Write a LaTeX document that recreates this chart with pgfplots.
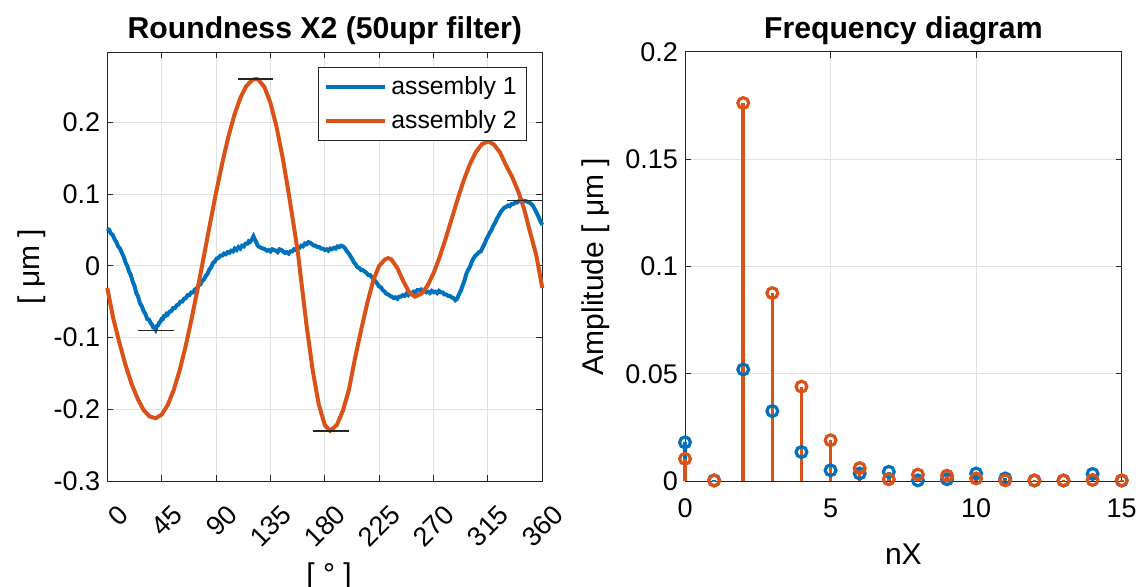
\documentclass[border=0pt]{standalone}
\usepackage{fontspec}
\setmainfont{Liberation Sans}
\usepackage{pgfplots}
\pgfplotsset{compat=1.18}
\definecolor{mblue}{RGB}{0,114,189}
\definecolor{morange}{RGB}{217,83,25}
\definecolor{mgrid}{RGB}{225,225,225}
\definecolor{maxis}{RGB}{38,38,38}

\newcommand{\labfont}{\fontsize{15}{18}\selectfont}

\pgfplotsset{
  mstyle/.style={
    scale only axis, width=217.5pt, height=214.5pt, anchor=south west,
    axis line style={maxis, line width=0.5pt},
    tick align=inside, major tick length=3pt,
    every tick/.style={maxis, line width=0.5pt},
    grid=major, major grid style={mgrid, line width=0.5pt},
    tick label style={font=\fontsize{13.5}{16}\selectfont, text=black},
    /pgf/number format/assume math mode=true,
    scaled ticks=false,
    every axis title/.style={font=\fontsize{15.1}{18}\selectfont\bfseries,
      at={(0.5,1)}, anchor=base, yshift=6.8pt},
    clip=false,
  }
}

\begin{document}
\begin{tikzpicture}
\path[use as bounding box] (0,0) rectangle (571.5pt,-293.5pt);

% left: roundness profile
\begin{axis}[mstyle,
  at={(53.65pt,-240.5pt)},
  title={Roundness X2 (50upr filter)},
  xmin=0, xmax=360, ymin=-0.3, ymax=0.298,
  xtick={0,45,...,360},
  ytick={-0.3,-0.2,-0.1,0,0.1,0.2},
  xticklabel style={xshift=10.5pt, yshift=-12pt, rotate=45, anchor=east},
  xlabel={[ ° ]}, ylabel={[ μm ]},
  every axis x label/.style={at={(axis description cs:0.51,-0.224)}, anchor=center, font=\labfont},
  every axis y label/.style={at={(axis description cs:-0.174,0.5)}, rotate=90, anchor=center, font=\labfont},
  legend style={at={(0.9655,0.9657)}, anchor=north east, draw=maxis, line width=0.5pt,
    font=\fontsize{12.4}{17}\selectfont, inner xsep=3pt, inner ysep=2.5pt,
    row sep=2.5pt, cells={anchor=west}},
  legend image code/.code={\draw[#1] (0pt,0pt) -- (29.5pt,0pt);},
]
\addplot[mblue, line width=2pt] coordinates {
(0,0.052) (1.5,0.050) (3,0.045) (4.5,0.043) (6,0.037) (7.5,0.033) (9,0.027)
(10.5,0.024) (12,0.018) (13.5,0.013) (15,0.005) (16.5,0.000) (18,-0.008)
(19.5,-0.013) (21,-0.022) (22.5,-0.028) (24,-0.038) (25.5,-0.043) (27,-0.052)
(28.5,-0.056) (30,-0.063) (31.5,-0.067) (33,-0.074) (34.5,-0.075) (36,-0.080)
(37,-0.082) (38,-0.086) (39,-0.086) (40,-0.089) (41,-0.084) (42,-0.083)
(43,-0.079) (44,-0.078) (45,-0.074) (46,-0.074) (47,-0.070) (48,-0.070)
(49,-0.067) (50,-0.068) (51.5,-0.064) (53,-0.063) (54.5,-0.059) (56,-0.059)
(57.5,-0.055) (59,-0.054) (60.5,-0.050) (62,-0.050) (63.5,-0.046) (65,-0.045)
(66.5,-0.041) (68,-0.041) (69.5,-0.037) (71,-0.037) (72.5,-0.033) (74,-0.032)
(75.5,-0.027) (77,-0.026) (78.5,-0.021) (80,-0.019) (81.5,-0.014) (83,-0.011)
(84.5,-0.005) (86,-0.002) (87.5,0.004) (89,0.006) (90.5,0.010) (92,0.011)
(93.5,0.014) (95,0.014) (96.5,0.017) (98,0.016) (99.5,0.019) (101,0.018)
(102.5,0.021) (104,0.020) (105.5,0.024) (107,0.022) (108.5,0.026) (110,0.024)
(111.5,0.028) (113,0.027) (114.5,0.031) (116,0.031) (117,0.034) (118,0.033)
(119.5,0.036) (121,0.041) (122,0.037) (123,0.034) (124.5,0.028) (126,0.026)
(127.5,0.025) (129,0.024) (130.5,0.023) (132,0.021) (133.5,0.022) (135,0.020)
(136.5,0.023) (138,0.022) (139.5,0.021) (141,0.019) (142.5,0.023) (144,0.022)
(145.5,0.020) (147,0.018) (148.5,0.019) (150,0.017) (151.5,0.020) (153,0.020)
(154.5,0.023) (156,0.022) (157.5,0.025) (159,0.025) (160.5,0.028) (162,0.027)
(163.5,0.031) (165,0.030) (166.5,0.033) (168,0.032) (169.5,0.030) (171,0.028)
(172.5,0.028) (174,0.026) (175.5,0.026) (177,0.024) (178.5,0.024) (180,0.022)
(181.5,0.023) (183,0.021) (184.5,0.024) (186,0.023) (187.5,0.025) (189,0.024)
(190.5,0.027) (192,0.026) (193.5,0.028) (195,0.027) (196.5,0.025) (198,0.021)
(199.5,0.018) (201,0.014) (202.5,0.010) (204,0.005) (205.5,0.002) (207,-0.002)
(208.5,-0.003) (210,-0.006) (211.5,-0.006) (213,-0.008) (214.5,-0.010)
(216,-0.013) (217.5,-0.013) (219,-0.016) (220.5,-0.018) (222,-0.022)
(223.5,-0.025) (225,-0.029) (226.5,-0.030) (228,-0.034) (229.5,-0.036)
(231,-0.039) (232.5,-0.040) (234,-0.042) (235.5,-0.043) (237,-0.045)
(238.5,-0.044) (240,-0.046) (241.5,-0.043) (243,-0.043) (244.5,-0.041)
(246,-0.042) (247.5,-0.039) (249,-0.041) (250.5,-0.038) (252,-0.039)
(253.5,-0.036) (255,-0.037) (256.5,-0.034) (258,-0.034) (259.5,-0.033)
(261,-0.036) (262.5,-0.035) (264,-0.037) (265.5,-0.036) (267,-0.038)
(268.5,-0.035) (270,-0.037) (271.5,-0.036) (273,-0.038) (274.5,-0.035)
(276,-0.037) (277.5,-0.037) (279,-0.040) (280.5,-0.040) (282,-0.042)
(283.5,-0.042) (285,-0.044) (286.5,-0.045) (288,-0.048) (289.5,-0.046)
(291,-0.040) (292.5,-0.035) (294,-0.028) (295.5,-0.021) (297,-0.012)
(298.5,-0.006) (300,-0.002) (301.5,0.005) (303,0.010) (304.5,0.014)
(306,0.016) (307.5,0.019) (309,0.020) (310.5,0.025) (312,0.030) (313.5,0.036)
(315,0.041) (316.5,0.046) (318,0.050) (319.5,0.056) (321,0.060) (322.5,0.066)
(324,0.070) (325.5,0.075) (327,0.078) (328.5,0.081) (330,0.082) (331.5,0.084)
(333,0.083) (334.5,0.086) (336,0.086) (337.5,0.088) (339,0.088) (340.5,0.090)
(342,0.090) (343.5,0.091) (345,0.090) (346.5,0.090) (348,0.089) (349.5,0.088)
(351,0.086) (352.5,0.083) (354,0.078) (355.5,0.073) (357,0.068) (358.5,0.062)
(360,0.057)
};
\addlegendentry{assembly 1}
\addplot[morange, line width=2pt] coordinates {
(0,-0.031) (5,-0.074) (10,-0.107) (15,-0.138) (20,-0.164) (25,-0.185)
(30,-0.201) (35,-0.210) (40,-0.2125) (45,-0.2074) (50,-0.194) (55,-0.173)
(60,-0.145) (65,-0.111) (70,-0.072) (75,-0.030) (80,0.014) (85,0.0586)
(90,0.1018) (95,0.1422) (100,0.1785) (105,0.2093) (110,0.2336) (115,0.2504)
(120,0.2592) (123.5,0.2605) (125,0.2594) (130,0.2493) (135,0.2272)
(140,0.1941) (145,0.1517) (150,0.1023) (155,0.0484) (158,0.015)
(160,-0.0142) (165,-0.0844) (170,-0.1459) (175,-0.1932) (180,-0.2220)
(184.3,-0.230) (190,-0.2218) (195,-0.2019) (200,-0.1724) (205,-0.129)
(210,-0.090) (215,-0.053) (220,-0.021) (225,0.000) (230,0.0091)
(232.5,0.0107) (235,0.009) (240,-0.003) (245,-0.0216) (250,-0.0375)
(254.6,-0.043) (260,-0.0388) (265,-0.0277) (270,-0.0104) (275,0.0119)
(280,0.0378) (285,0.0655) (290,0.0932) (295,0.1191) (300,0.1413)
(305,0.1585) (310,0.1695) (315.3,0.1735) (320,0.169) (325,0.158)
(330,0.140) (335,0.124) (340,0.104) (345,0.079) (350,0.046) (355,0.015)
(360,-0.031)
};
\addlegendentry{assembly 2}
% min / max markers
\addplot[maxis, line width=0.8pt, forget plot] coordinates {(25.7,-0.090) (55.2,-0.090)};
\addplot[maxis, line width=0.8pt, forget plot] coordinates {(107.9,0.260) (137.4,0.260)};
\addplot[maxis, line width=0.8pt, forget plot] coordinates {(170.5,-0.230) (200.3,-0.230)};
\addplot[maxis, line width=0.8pt, forget plot] coordinates {(330.5,0.091) (360,0.091)};
\end{axis}

% right: frequency diagram
\begin{axis}[mstyle,
  at={(342.5pt,-240.5pt)}, width=218.35pt,
  title={Frequency diagram},
  xmin=0, xmax=15, ymin=0, ymax=0.2,
  xtick={0,5,10,15},
  ytick={0,0.05,0.1,0.15,0.2},
  yticklabel style={/pgf/number format/fixed},
  xticklabel style={yshift=-5.5pt},
  xlabel={nX}, ylabel={Amplitude [ μm ]},
  every axis x label/.style={at={(axis description cs:0.5,-0.170)}, anchor=center, font=\labfont},
  every axis y label/.style={at={(axis description cs:-0.205,0.5)}, rotate=90, anchor=center, font=\labfont},
]
\addplot[mblue, ycomb, line width=1.8pt, mark=o, mark size=2.7pt,
  mark options={line width=1.6pt}] coordinates {
(0,0.018) (1,0.0003) (2,0.052) (3,0.0326) (4,0.0135) (5,0.005) (6,0.0035)
(7,0.0043) (8,0.0003) (9,0.0008) (10,0.0035) (11,0.0012) (12,0.0002)
(13,0.0002) (14,0.0033) (15,0.0002)
};
\addplot[morange, ycomb, line width=1.8pt, mark=o, mark size=2.7pt,
  mark options={line width=1.6pt}] coordinates {
(0,0.0103) (1,0.0002) (2,0.1762) (3,0.0876) (4,0.044) (5,0.019) (6,0.006)
(7,0.0008) (8,0.0030) (9,0.0025) (10,0.0012) (11,0.0003) (12,0.0003)
(13,0.0003) (14,0.0005) (15,0.0003)
};
\end{axis}
\end{tikzpicture}
\end{document}
